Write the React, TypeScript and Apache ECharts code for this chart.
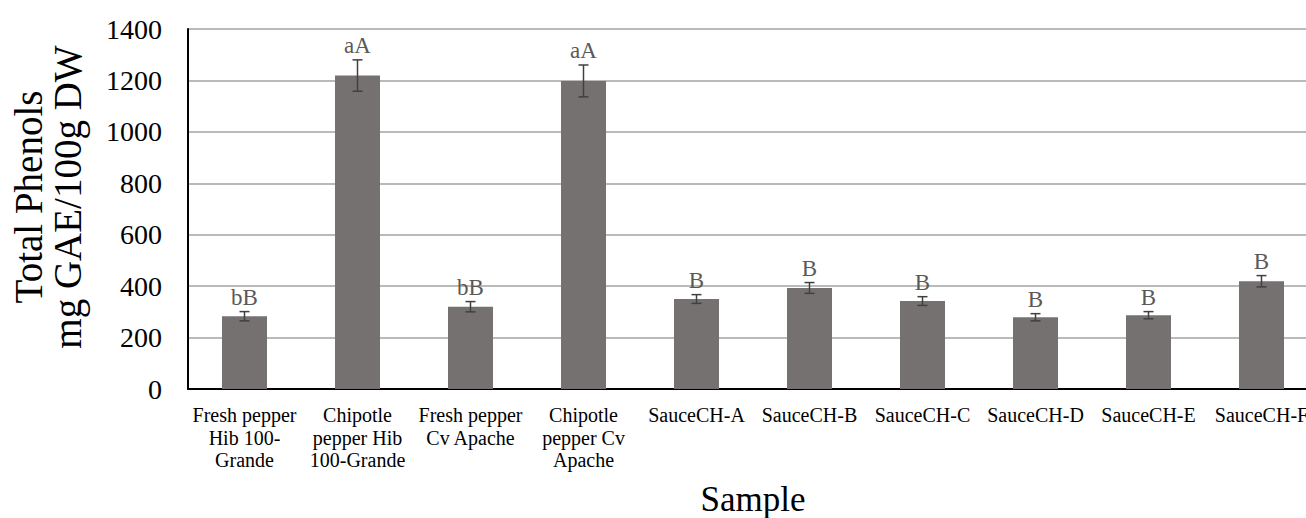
import React, { useEffect, useRef } from "react";
import * as echarts from "echarts";

const categories = [
  "Fresh pepper\nHib 100-\nGrande",
  "Chipotle\npepper Hib\n100-Grande",
  "Fresh pepper\nCv Apache",
  "Chipotle\npepper Cv\nApache",
  "SauceCH-A",
  "SauceCH-B",
  "SauceCH-C",
  "SauceCH-D",
  "SauceCH-E",
  "SauceCH-F",
];
const means = [283, 1219, 320, 1198, 350, 393, 342, 279, 287, 419];
const errors = [18, 61, 20, 62, 17, 21, 17, 14, 14, 22];
const letters = ["bB", "aA", "bB", "aA", "B", "B", "B", "B", "B", "B"];
const yTicks = { min: 0, max: 1400, interval: 200 };

const FONT = '"Liberation Serif", "Times New Roman", serif';

export default function App() {
  const ref = useRef<HTMLDivElement>(null);
  useEffect(() => {
    if (!ref.current) return;
    const chart = echarts.init(ref.current, null, { renderer: "svg" });
    const errData = means.map((m, i) => [i, m, errors[i]]);
    chart.setOption({
      animation: false,
      backgroundColor: "#ffffff",
      grid: {
        left: 188,
        top: 29,
        bottom: 129,
        right: 0,
        containLabel: false,
        outerBoundsMode: "none",
      },
      xAxis: {
        type: "category",
        data: categories,
        name: "Sample",
        nameLocation: "middle",
        nameGap: 93,
        nameTextStyle: { fontFamily: FONT, fontSize: 35, lineHeight: 34, color: "#000" },
        axisLine: { show: true, lineStyle: { color: "#000", width: 2 } },
        axisTick: { show: false },
        axisLabel: {
          interval: 0,
          fontFamily: FONT,
          fontSize: 20,
          lineHeight: 22.5,
          color: "#000",
          margin: 15,
        },
      },
      yAxis: {
        type: "value",
        min: yTicks.min,
        max: yTicks.max,
        interval: yTicks.interval,
        axisLine: { show: true, lineStyle: { color: "#000", width: 2 } },
        axisTick: { show: false },
        axisLabel: {
          fontFamily: FONT,
          fontSize: 28,
          color: "#000",
          margin: 26,
          formatter: (v: number) => String(v),
        },
        splitLine: { lineStyle: { color: "#a3a3a3", width: 1.5 } },
      },
      graphic: [
        {
          type: "text",
          x: 48,
          y: 197,
          rotation: Math.PI / 2,
          style: {
            text: "Total Phenols\nmg GAE/100g DW",
            font: `39px ${FONT}`,
            fill: "#000",
            textAlign: "center",
            textVerticalAlign: "middle",
            lineHeight: 39,
          },
        },
      ],
      series: [
        {
          type: "bar",
          data: means,
          barWidth: 45,
          itemStyle: { color: "#767171" },
          z: 2,
        },
        {
          type: "custom",
          data: errData,
          z: 3,
          renderItem: (params: any, api: any) => {
            const i = api.value(0);
            const m = api.value(1);
            const e = api.value(2);
            const top = api.coord([i, m + e]);
            const bot = api.coord([i, m - e]);
            const x = top[0];
            const cap = 5;
            const ls = { stroke: "#404040", lineWidth: 1.5 };
            return {
              type: "group",
              children: [
                { type: "line", shape: { x1: x, y1: top[1], x2: x, y2: bot[1] }, style: ls },
                { type: "line", shape: { x1: x - cap, y1: top[1], x2: x + cap, y2: top[1] }, style: ls },
                { type: "line", shape: { x1: x - cap, y1: bot[1], x2: x + cap, y2: bot[1] }, style: ls },
                {
                  type: "text",
                  x: x,
                  y: top[1] - 3,
                  style: {
                    text: letters[params.dataIndex],
                    font: `23px ${FONT}`,
                    fill: "#595959",
                    textAlign: "center",
                    textVerticalAlign: "bottom",
                  },
                },
              ],
            };
          },
        },
      ],
    });
    return () => chart.dispose();
  }, []);
  return (
    <div
      style={{
        position: "absolute",
        left: 0,
        top: 0,
        width: 1306,
        height: 518,
        overflow: "hidden",
        background: "#fff",
      }}
    >
      <div ref={ref} style={{ width: 1318, height: 518 }} />
    </div>
  );
}
